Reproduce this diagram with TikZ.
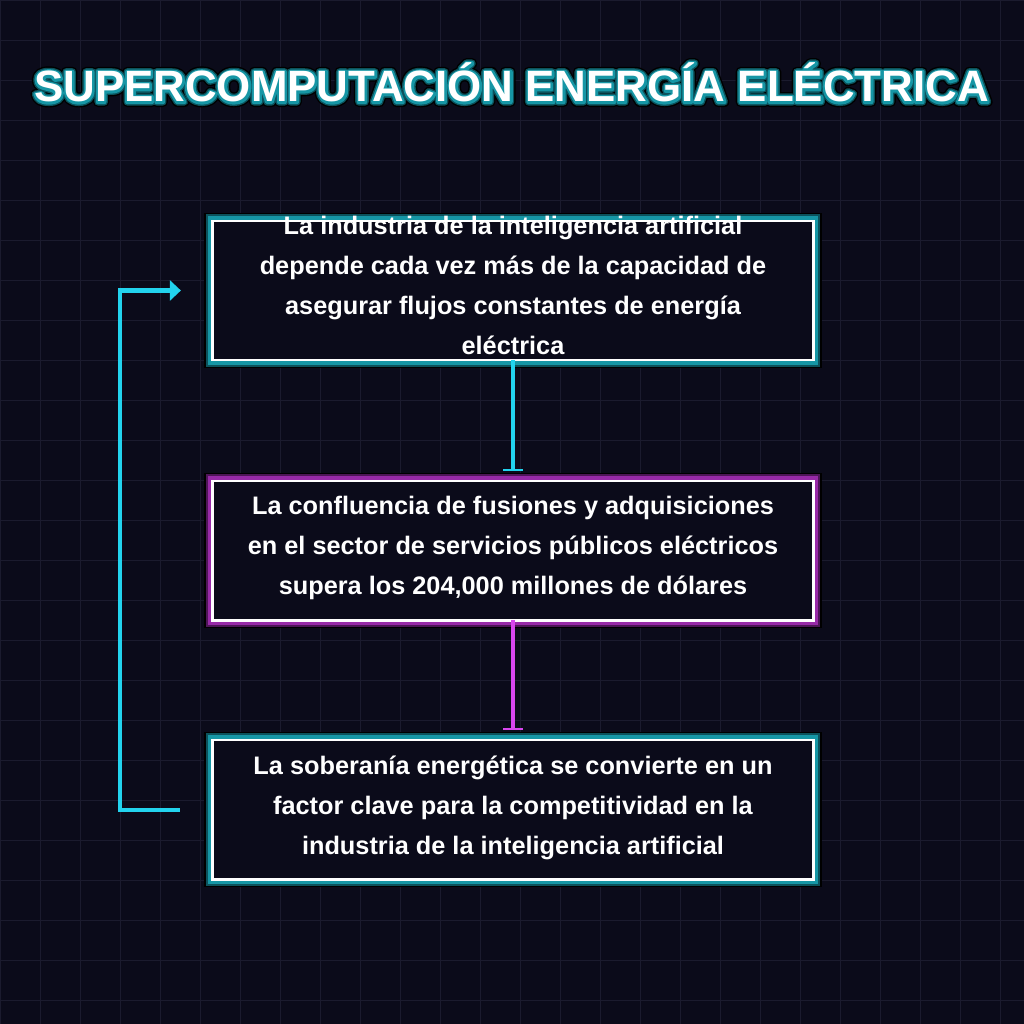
\documentclass[tikz,border=0pt]{standalone}
\usepackage{fontspec}
\setmainfont{Liberation Sans}
\newfontface\titleshadefont{Liberation Sans Bold}[FakeBold=22.8]
\newfontface\titledeepfont{Liberation Sans Bold}[FakeBold=16.4]
\newfontface\titleglowfont{Liberation Sans Bold}[FakeBold=10]
\usetikzlibrary{arrows.meta,positioning}
\definecolor{nightbg}{RGB}{11,11,26}
\definecolor{gridline}{RGB}{27,27,46}
\definecolor{neoncyan}{RGB}{34,211,238}
\definecolor{cyanglow}{RGB}{22,150,165}
\definecolor{cyandeep}{RGB}{12,82,92}
\definecolor{neonpink}{RGB}{217,70,239}
\definecolor{pinkglow}{RGB}{152,42,168}
\definecolor{pinkdeep}{RGB}{78,22,88}

\tikzset{
  card/.style={draw=white,line width=2.1pt,fill=nightbg,inner sep=0pt,outer sep=0pt,
    minimum width=15cm,minimum height=3.475cm},
  cyancard/.style={card,preaction={draw=black,line width=12pt},
    preaction={draw=cyandeep,line width=9.4pt},preaction={draw=cyanglow,line width=6.6pt}},
  pinkcard/.style={card,preaction={draw=black,line width=12pt},
    preaction={draw=pinkdeep,line width=9.4pt},preaction={draw=pinkglow,line width=6.6pt}},
  cardtext/.style={align=center,text=white,font=\bfseries\fontsize{18}{28.45}\selectfont},
  titletext/.style={anchor=base,line join=round,font=\fontsize{31.2}{36}\selectfont},
  link/.style={line width=2.85pt}
}

\begin{document}
\begin{tikzpicture}[x=0.025cm,y=-0.025cm]
  \useasboundingbox (0,0) rectangle (1024,1024);
  \fill[nightbg] (0,0) rectangle (1024,1024);
  \draw[gridline,line width=0.7pt] (0,0) grid[step=1cm] (1024,1024);

  % title with neon outline
  \node[titletext,text=black] (titleshade) at (511.5,102) {\titleshadefont SUPERCOMPUTACIÓN ENERGÍA ELÉCTRICA};
  \node[titletext,text=cyandeep] (titledeep) at (511.5,102) {\titledeepfont SUPERCOMPUTACIÓN ENERGÍA ELÉCTRICA};
  \node[titletext,text=cyanglow] (titleglow) at (511.5,102) {\titleglowfont SUPERCOMPUTACIÓN ENERGÍA ELÉCTRICA};
  \node[titletext,text=white] (title) at (511.5,102) {\bfseries SUPERCOMPUTACIÓN ENERGÍA ELÉCTRICA};

  % cards
  \node[cyancard] (demand) at (513,290.5) {};
  \node[pinkcard] (mergers) at (513,550.5) {};
  \node[cyancard] (sovereignty) at (513,809.5) {};

  \node[cardtext] (demandtext) at (513,285)
    {La industria de la inteligencia artificial\\depende cada vez más de la capacidad de\\asegurar flujos constantes de energía\\eléctrica};
  \node[cardtext] (mergerstext) at (513,548)
    {La confluencia de fusiones y adquisiciones\\en el sector de servicios públicos eléctricos\\supera los 204,000 millones de dólares};
  \node[cardtext] (sovereigntytext) at (513,808)
    {La soberanía energética se convierte en un\\factor clave para la competitividad en la\\industria de la inteligencia artificial};

  % connectors
  \draw[link,neoncyan,-{Bar[width=14.2pt,line width=1.4pt]},shorten >=7.4pt] (demand.south) -- (mergers.north);
  \draw[link,neonpink,-{Bar[width=14.2pt,line width=1.4pt]},shorten >=7.4pt] (mergers.south) -- (sovereignty.north);
  \draw[link,neoncyan,-{Triangle[length=7.8pt,width=14.2pt]},shorten <=23.5pt,shorten >=22.8pt]
    (sovereignty.west) -- ++(-93,0) |- (demand.west);
\end{tikzpicture}
\end{document}
